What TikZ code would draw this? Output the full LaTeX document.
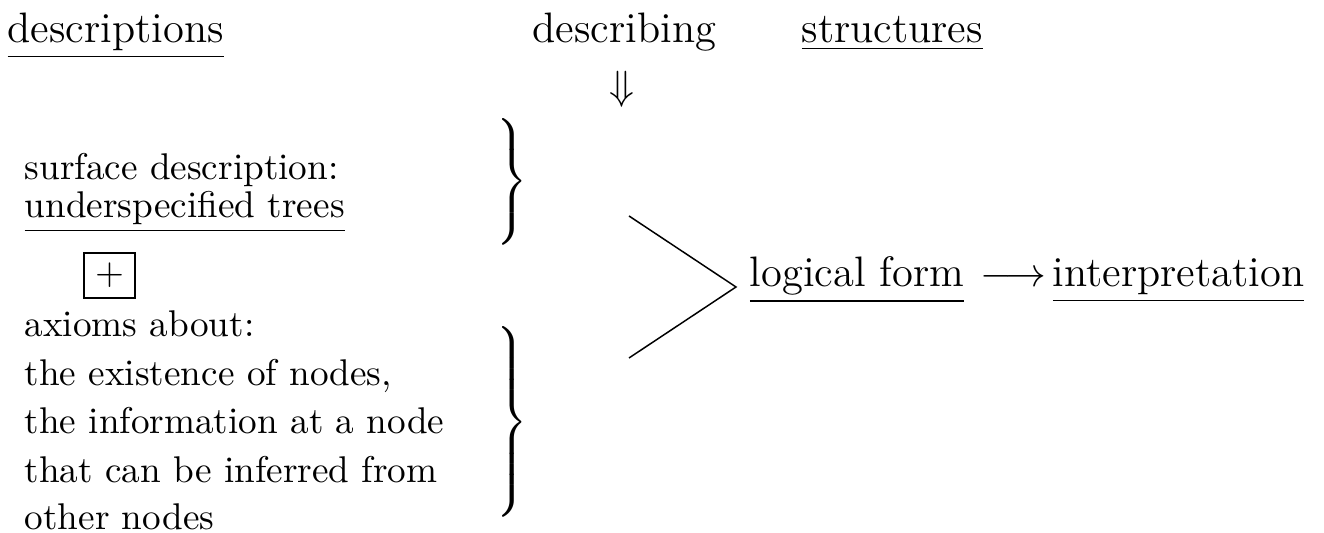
\documentclass[tikz,border=0pt]{standalone}
\usepackage{graphicx}
\newcommand\mybrace[2]{\scalebox{#2}{$\left.\vcenter{\hrule height #1 width 0pt}\right\}$}}
\tikzset{
  body/.style={inner sep=0pt, anchor=base west, font=\fontsize{10}{12}\selectfont},
  head/.style={inner sep=0pt, anchor=base west, font=\fontsize{11.45}{13.5}\selectfont},
  headsym/.style={inner sep=0pt, font=\fontsize{11.45}{13.5}\selectfont},
  bracenode/.style={inner sep=0pt},
  plusbox/.style={draw, line width=0.4pt, inner sep=0pt, minimum width=13.7pt, minimum height=12.1pt},
  thinline/.style={line width=0.4pt},
}
\begin{document}
\begin{tikzpicture}[x=0.2688pt, y=-0.2688pt]
\useasboundingbox (0,0) rectangle (1324,533);
% headings
\node[head] (desc) at (7,43) {\underline{descriptions}};
\node[head] (dscb) at (532,43) {describing};
\node[head] (struct) at (801,43) {\underline{structures}};
\node[headsym] (darr) at (622,89) {$\Downarrow$};
% left column
\node[body] (surf) at (24,180) {surface description:};
\node[body] (under) at (24,218) {\underline{underspecified trees}};
\node[plusbox] (plus) at (109.5,275.5) {$+$};
\node[body] (ax) at (24,337) {axioms about:};
\node[body] (ex) at (24,386) {the existence of nodes,};
\node[body] (info) at (24,434) {the information at a node};
\node[body] (inf) at (24,483) {that can be inferred from};
\node[body] (oth) at (24,530) {other nodes};
% braces
\node[bracenode] (b1) at (510,181.5) {\mybrace{36pt}{0.948}};
\node[bracenode] (b2) at (510,422) {\mybrace{54pt}{0.948}};
% angle
\coordinate (a1) at (629,216);
\coordinate (av) at (736,287);
\coordinate (a2) at (629,358);
\draw[thinline] (a1) -- (av) -- (a2);
% right part
\node[head] (lf) at (749,287) {\underline{logical form}};
\node[head] (larr) at (980,287) {$\longrightarrow$};
\node[head] (interp) at (1052,287) {\underline{interpretation}};
\end{tikzpicture}
\end{document}
